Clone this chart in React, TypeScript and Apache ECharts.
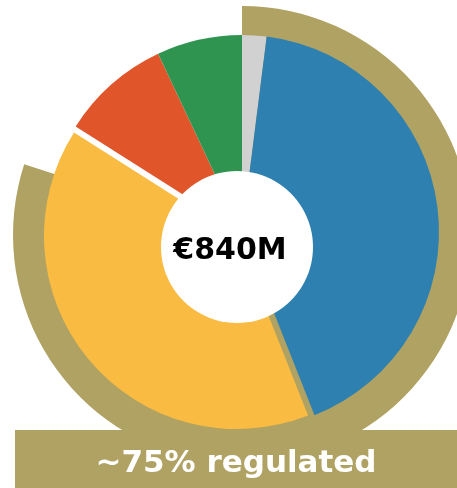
import React, { useEffect, useRef } from "react";
import * as echarts from "echarts";

// Slices clockwise from 12 o'clock (share of total, %)
const sliceNames = ["Other", "Business A", "Business B", "Business C", "Business D"];
const sliceValues = [2, 42, 40, 9, 7];
const explodedSlice = "Business B";

// Outer highlight ring (share of total, %)
const ringNames = ["Regulated", "Non-regulated"];
const ringValues = [80, 20];

const totalLabel = "€840M";
const bannerLabel = "~75% regulated";

const COLORS = ["#D1D1D1", "#2E80B0", "#F9BB42", "#E0552A", "#2F9450"];
const TAN = "#B0A262";
const CLEAR = "rgba(0,0,0,0)";
const FONT = '"DejaVu Sans", Verdana, sans-serif';

export default function App() {
  const ref = useRef<HTMLDivElement>(null);
  useEffect(() => {
    const chart = echarts.init(ref.current as HTMLDivElement, null, { renderer: "svg" });
    const base: any = {
      type: "pie",
      startAngle: 90,
      clockwise: true,
      silent: true,
      label: { show: false },
      labelLine: { show: false },
      emphasis: { disabled: true },
      animation: false,
      avoidLabelOverlap: false,
    };
    chart.setOption({
      animation: false,
      series: [
        {
          ...base,
          z: 1,
          center: [242, 235],
          radius: [0, 229],
          data: ringNames.map((n, i) => ({
            name: n,
            value: ringValues[i],
            itemStyle: { color: i === 0 ? TAN : CLEAR, borderWidth: 0 },
          })),
        },
        {
          ...base,
          z: 2,
          center: [242, 232],
          radius: [0, 197],
          data: sliceNames.map((n, i) => ({
            name: n,
            value: sliceValues[i],
            itemStyle: { color: n === explodedSlice ? CLEAR : COLORS[i], borderWidth: 0 },
          })),
        },
        {
          ...base,
          z: 3,
          center: [237, 236],
          radius: [0, 193],
          data: sliceNames.map((n, i) => ({
            name: n,
            value: sliceValues[i],
            itemStyle: { color: n === explodedSlice ? COLORS[i] : CLEAR, borderWidth: 0 },
          })),
        },
      ],
      graphic: [
        {
          type: "circle",
          z: 100,
          shape: { cx: 237, cy: 247, r: 76 },
          style: { fill: "#ffffff" },
          silent: true,
        },
        {
          type: "text",
          z: 101,
          x: 230,
          y: 248,
          style: {
            text: totalLabel,
            fill: "#000000",
            font: `bold 30px ${FONT}`,
            align: "center",
            verticalAlign: "middle",
          },
          silent: true,
        },
        {
          type: "rect",
          z: 100,
          shape: { x: 15, y: 430, width: 442, height: 58 },
          style: { fill: TAN },
          silent: true,
        },
        {
          type: "text",
          z: 101,
          x: 236,
          y: 461,
          style: {
            text: bannerLabel,
            fill: "#ffffff",
            font: `bold 31px ${FONT}`,
            align: "center",
            verticalAlign: "middle",
          },
          silent: true,
        },
      ],
    });
    return () => chart.dispose();
  }, []);
  return (
    <div
      ref={ref}
      style={{ position: "fixed", left: 0, top: 0, width: 457, height: 488 }}
    />
  );
}
